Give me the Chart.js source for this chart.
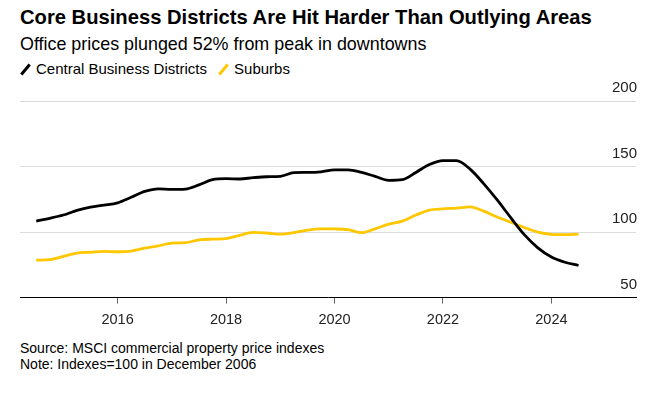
<!DOCTYPE html>
<html>
<head>
<meta charset="utf-8">
<script src="https://cdn.jsdelivr.net/npm/chart.js@4.4.1/dist/chart.umd.min.js"></script>
<style>
  body { margin: 0; background: #fff; font-family: "Liberation Sans", Arial, sans-serif; color: #000; }
  #wrap { position: relative; width: 650px; height: 393px; }
  .title { position: absolute; left: 20px; top: 6px; font-size: 20.2px; font-weight: bold; }
  .sub { position: absolute; left: 20px; top: 34px; font-size: 17.9px; }
  .legend { position: absolute; left: 20px; top: 60px; font-size: 15px; }
  .legend span.item { margin-right: 7px; }
  .mark { display: inline-block; width: 3px; height: 13px; transform: rotate(40deg); margin: 0 9px -2px 4px; }
  .foot { position: absolute; left: 20px; top: 340px; font-size: 14px; line-height: 16px; }
  #c { position: absolute; left: 0; top: 76px; }
</style>
</head>
<body>
<div id="wrap">
  <div class="title">Core Business Districts Are Hit Harder Than Outlying Areas</div>
  <div class="sub">Office prices plunged 52% from peak in downtowns</div>
  <div class="legend">
    <span class="item"><span class="mark" style="background:#000"></span>Central Business Districts</span>
    <span class="item"><span class="mark" style="background:#ffc700"></span>Suburbs</span>
  </div>
  <canvas id="c" width="650" height="261"></canvas>
  <div class="foot">Source: MSCI commercial property price indexes<br>Note: Indexes=100 in December 2006</div>
</div>
<script>
var dates = [2014.5, 2014.75, 2015, 2015.25, 2015.5, 2015.75, 2016, 2016.25, 2016.5, 2016.75,
  2017, 2017.25, 2017.5, 2017.75, 2018, 2018.25, 2018.5, 2018.75, 2019, 2019.25,
  2019.5, 2019.75, 2020, 2020.25, 2020.5, 2020.75, 2021, 2021.25, 2021.5, 2021.75,
  2022, 2022.25, 2022.5, 2022.75, 2023, 2023.25, 2023.5, 2023.75, 2024, 2024.25, 2024.5];

var cbd = [108.4, 110.5, 113, 116.5, 119, 120.5, 122.3, 126.5, 131, 133,
  132.5, 132.8, 136, 140, 140.7, 140.5, 141.5, 142.2, 142.5, 145.3,
  145.5, 146, 147.5, 147.5, 145.5, 142.5, 139.5, 140, 145.5, 151.5,
  154.5, 154.5, 148, 137, 124.5, 111, 98, 88, 81, 77, 74.5];

var suburbs = [78.6, 79, 81.5, 84, 84.6, 85.3, 85, 85.5, 87.8, 89.5,
  91.5, 91.9, 94, 94.6, 95, 97.5, 99.8, 99.3, 98.4, 99.5,
  101.5, 102.5, 102.4, 101.8, 99.5, 102.5, 106, 108.4, 113, 116.8,
  117.7, 118.3, 119.2, 116, 111.5, 107.5, 103.5, 100, 98.3, 98, 98.5];

var xTicks = [2016, 2018, 2020, 2022, 2024];
var yTicks = [50, 100, 150, 200];

function pts(vals) {
  return vals.map(function (v, i) { return { x: dates[i], y: v }; });
}

new Chart("c", {
  type: "line",
  data: {
    datasets: [{
      label: "Central Business Districts",
      data: pts(cbd),
      borderColor: "#000",
      borderWidth: 2.8,
      pointRadius: 0,
      cubicInterpolationMode: "monotone"
    }, {
      label: "Suburbs",
      data: pts(suburbs),
      borderColor: "#ffc700",
      borderWidth: 2.8,
      pointRadius: 0,
      cubicInterpolationMode: "monotone"
    }]
  },
  options: {
    responsive: false,
    animation: false,
    layout: { padding: { left: 20, right: 12, top: 25, bottom: 0 } },
    plugins: {
      legend: { display: false },
      tooltip: { enabled: false }
    },
    scales: {
      x: {
        type: "linear",
        min: 2014.2,
        max: 2025.56,
        afterBuildTicks: function (axis) {
          axis.ticks = xTicks.map(function (v) { return { value: v }; });
        },
        grid: { drawOnChartArea: false, tickLength: 6, color: "#666" },
        border: { color: "#000", width: 1 },
        ticks: {
          padding: 8,
          color: "#222",
          font: { family: "Liberation Sans", size: 14.5 },
          callback: function (v) { return String(v); }
        }
      },
      y: {
        position: "right",
        min: 50,
        max: 200,
        afterBuildTicks: function (axis) {
          axis.ticks = yTicks.map(function (v) { return { value: v }; });
        },
        grid: { drawTicks: false, color: "#dcdcdc", lineWidth: 1 },
        border: { display: false },
        ticks: {
          mirror: true,
          padding: 1,
          labelOffset: -13,
          color: "#222",
          font: { family: "Liberation Sans", size: 15 }
        }
      }
    }
  }
});
</script>
</body>
</html>
